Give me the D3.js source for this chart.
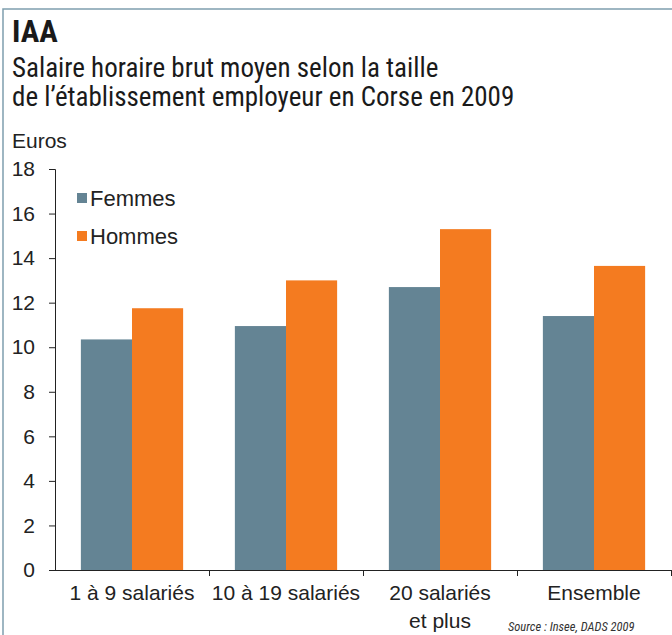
<!DOCTYPE html>
<html><head><meta charset="utf-8">
<script src="https://cdn.jsdelivr.net/npm/d3@7"></script>
<style>
html,body{margin:0;padding:0;background:#fff;}
svg{display:block;}
</style></head>
<body>
<svg id="c" width="672" height="635"></svg>
<script>
const categories = [["1 à 9 salariés"], ["10 à 19 salariés"], ["20 salariés", "et plus"], ["Ensemble"]];
const seriesNames = ["Femmes", "Hommes"];
const femmes = [10.35, 10.95, 12.7, 11.4];
const hommes = [11.75, 13.0, 15.3, 13.65];
const yTicks = [0, 2, 4, 6, 8, 10, 12, 14, 16, 18];
const colors = ["#648494", "#f47b20"];

const svg = d3.select("#c");
const font = "'Liberation Sans', Arial, sans-serif";
const narrow = "'Liberation Sans Narrow', 'Roboto Condensed', 'DejaVu Sans Condensed', sans-serif";

// frame
svg.append("path").attr("d", "M3,635 V9 H672").attr("fill", "none").attr("stroke", "#7f9fae").attr("stroke-width", 1.5);

svg.append("text").attr("x", 12).attr("y", 42).attr("font-family", narrow).attr("font-weight", "bold")
  .attr("font-size", 31).attr("fill", "#1a1a1a").text("IAA");
const sub = ["Salaire horaire brut moyen selon la taille", "de l’établissement employeur en Corse en 2009"];
sub.forEach((s, i) => svg.append("text").attr("x", 12).attr("y", 77 + i * 29).attr("font-family", narrow)
  .attr("font-size", 27).attr("fill", "#1a1a1a").text(s));

const x0 = d3.scaleBand().domain(d3.range(categories.length)).range([55, 671]).paddingInner(0.336).paddingOuter(0.168);
const x1 = d3.scaleBand().domain(d3.range(seriesNames.length)).range([0, x0.bandwidth()]);
const y = d3.scaleLinear().domain([0, 18]).range([570, 169]);

svg.append("text").attr("x", 12).attr("y", 148).attr("font-family", font).attr("font-size", 21)
  .attr("fill", "#222").text("Euros");

// bars
const data = [femmes, hommes];
data.forEach((vals, si) => {
  svg.append("g").selectAll("rect").data(vals).join("rect")
    .attr("x", (d, i) => x0(i) + x1(si))
    .attr("y", d => y(d))
    .attr("width", x1.bandwidth())
    .attr("height", d => y(0) - y(d))
    .attr("fill", colors[si]);
});

// y axis
const ya = svg.append("g").attr("transform", "translate(55,0)")
  .call(d3.axisLeft(y).tickValues(yTicks).tickSize(6).tickPadding(14));
ya.select(".domain").attr("stroke", "#222");
ya.selectAll(".tick line").attr("stroke", "#222");
ya.selectAll("text").attr("font-family", font).attr("font-size", 21).attr("fill", "#222");

// x axis
const xs = d3.scaleLinear().domain([0, 4]).range([55, 671]);
const xa = svg.append("g").attr("transform", "translate(0,570)")
  .call(d3.axisBottom(xs).tickValues([0, 1, 2, 3, 4]).tickSize(6).tickFormat(""));
xa.select(".domain").attr("d", "M49,0.5H671.5V6");
xa.selectAll(".tick line").attr("stroke", "#222");
xa.select(".domain").attr("stroke", "#222");
xa.selectAll(".tick").filter(d => d === 0).remove();

categories.forEach((lines, i) => {
  lines.forEach((l, j) => svg.append("text").attr("x", x0(i) + x0.bandwidth() / 2).attr("y", 600 + j * 28)
    .attr("text-anchor", "middle").attr("font-family", font).attr("font-size", 21).attr("fill", "#222").text(l));
});

// legend
seriesNames.forEach((n, i) => {
  const g = svg.append("g").attr("transform", `translate(77,${198 + i * 38})`);
  g.append("rect").attr("x", 0).attr("y", -5).attr("width", 10).attr("height", 10).attr("fill", colors[i]);
  g.append("text").attr("x", 13).attr("y", 8).attr("font-family", font).attr("font-size", 22).attr("fill", "#222").text(n);
});

svg.append("text").attr("x", 508).attr("y", 631).attr("font-family", narrow).attr("font-style", "italic")
  .attr("font-size", 12.5).attr("fill", "#333").text("Source : Insee, DADS 2009");
</script>
</body></html>
